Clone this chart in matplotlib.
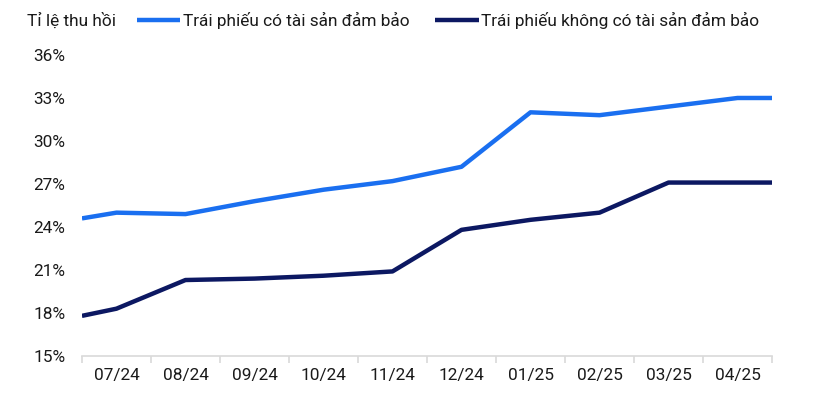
import matplotlib.pyplot as plt
from matplotlib.ticker import FixedLocator, PercentFormatter

plt.rcParams['font.family'] = ['Roboto', 'DejaVu Sans']

# Data
months = ['07/24', '08/24', '09/24', '10/24', '11/24', '12/24',
          '01/25', '02/25', '03/25', '04/25']
# point positions on the category axis (edges + month centres)
x_pos = [0, 0.5, 1.5, 2.5, 3.5, 4.5, 5.5, 6.5, 7.5, 8.5, 9.5, 10]
secured = [24.6, 25.0, 24.9, 25.8, 26.6, 27.2, 28.2, 32.0, 31.8, 32.4, 33.0, 33.0]
unsecured = [17.8, 18.3, 20.3, 20.4, 20.6, 20.9, 23.8, 24.5, 25.0, 27.1, 27.1, 27.1]

fs = 12.4

fig = plt.figure(figsize=(8.18, 3.99), dpi=100)
ax = fig.add_axes([0.1002, 0.1078, 0.8436, 0.7544])

ax.plot(x_pos, secured, color='#1a6ff0', lw=3.2, solid_capstyle='butt',
        label='Trái phiếu có tài sản đảm bảo')
ax.plot(x_pos, unsecured, color='#0c1862', lw=3.2, solid_capstyle='butt',
        label='Trái phiếu không có tài sản đảm bảo')

ax.set_xlim(0, 10)
ax.set_ylim(15, 36)
ax.set_yticks(range(15, 37, 3))
ax.yaxis.set_major_formatter(PercentFormatter(decimals=0))

# tick marks at category boundaries, labels at centres
ax.xaxis.set_major_locator(FixedLocator(range(0, 11)))
ax.xaxis.set_minor_locator(FixedLocator([i + 0.5 for i in range(10)]))
ax.set_xticklabels([])
ax.set_xticklabels(months, minor=True)
ax.tick_params(axis='x', which='major', length=5, color='#d9d9d9', width=1.2)
ax.tick_params(axis='x', which='minor', length=0, pad=9, labelsize=fs,
               labelcolor='#1a1a1a')
ax.tick_params(axis='y', length=0, pad=12, labelsize=fs, labelcolor='#1a1a1a')

for s in ['top', 'right', 'left']:
    ax.spines[s].set_visible(False)
ax.spines['bottom'].set_color('#d9d9d9')
ax.spines['bottom'].set_linewidth(1.2)

fig.text(0.033, 0.948, 'Tỉ lệ thu hồi', fontsize=fs, color='#1a1a1a', va='center')
ax.legend(loc='center left', bbox_to_anchor=(0.1675, 0.948), bbox_transform=fig.transFigure,
          ncol=2, frameon=False, fontsize=fs, handlelength=2.5, handletextpad=0.17,
          columnspacing=1.5, borderpad=0, borderaxespad=0, labelcolor='#1a1a1a')

fig.savefig('out.png', dpi=100)
